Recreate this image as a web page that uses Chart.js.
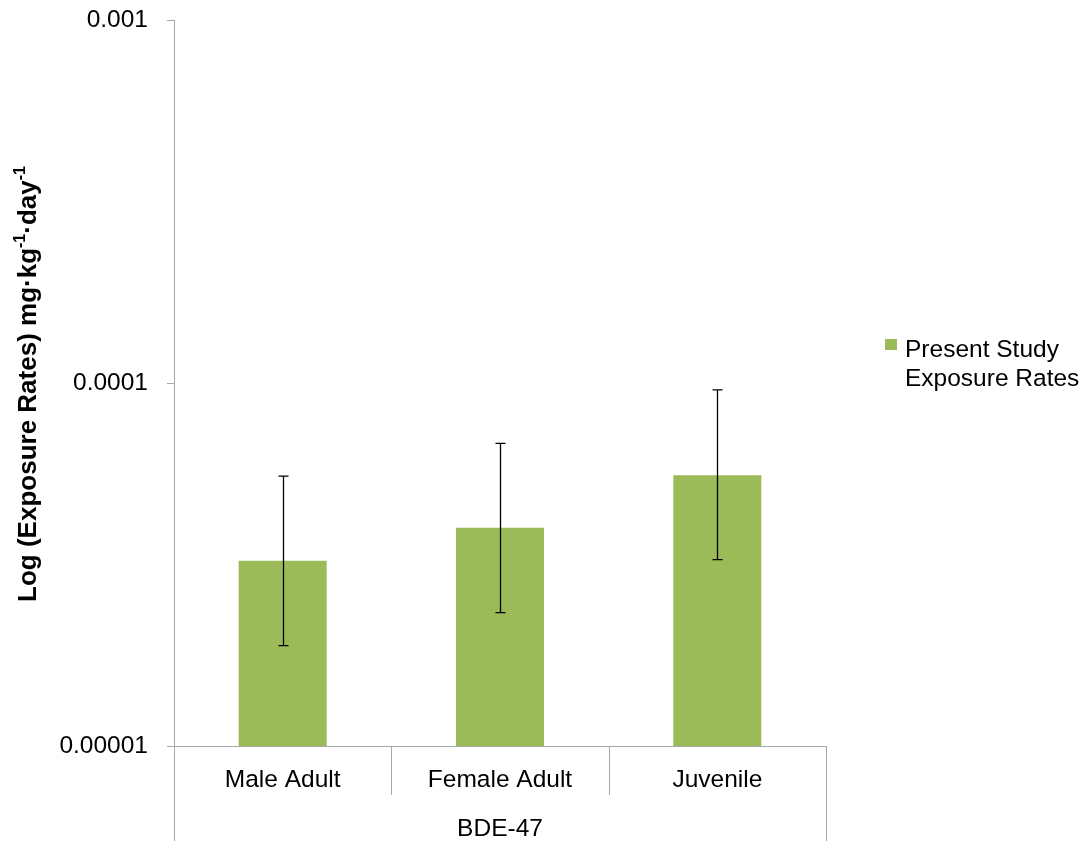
<!DOCTYPE html>
<html>
<head>
<meta charset="utf-8">
<script src="https://cdn.jsdelivr.net/npm/chart.js@4/dist/chart.umd.min.js"></script>
<style>
  html, body { margin: 0; padding: 0; background: #ffffff; }
  #wrap { width: 1089px; height: 841px; position: relative; }
</style>
</head>
<body>
<div id="wrap"><canvas id="chart" width="1089" height="841"></canvas></div>
<script>
// BDE-47 exposure rates by group (mg·kg-1·day-1), log axis
const categories = ['Male Adult', 'Female Adult', 'Juvenile'];
const groupLabel = 'BDE-47';
const seriesName = ['Present Study', 'Exposure Rates'];
const exposure = [3.24e-5, 3.99e-5, 5.57e-5];
const errUpper = [5.54e-5, 6.82e-5, 9.57e-5];
const errLower = [1.89e-5, 2.33e-5, 3.26e-5];
const yTicks = [0.00001, 0.0001, 0.001];
const yTickLabels = ['0.00001', '0.0001', '0.001'];

const FONT = '"Liberation Sans", Arial, sans-serif';
const FONT_SIZE = 24.5;
const AXIS_GREY = '#a6a6a6';
const BAR_GREEN = '#9bbb59';

// Vertical error bars with caps
const errorBars = {
  id: 'errorBars',
  afterDatasetsDraw(chart) {
    const { ctx } = chart;
    const y = chart.scales.y;
    const meta = chart.getDatasetMeta(0);
    ctx.save();
    ctx.strokeStyle = '#000000';
    ctx.lineWidth = 1.3;
    meta.data.forEach((bar, i) => {
      const x = Math.round(bar.x) + 0.5;
      const yHi = y.getPixelForValue(errUpper[i]);
      const yLo = y.getPixelForValue(errLower[i]);
      const cap = 5;
      ctx.beginPath();
      ctx.moveTo(x, yHi); ctx.lineTo(x, yLo);
      ctx.moveTo(x - cap, yHi); ctx.lineTo(x + cap, yHi);
      ctx.moveTo(x - cap, yLo); ctx.lineTo(x + cap, yLo);
      ctx.stroke();
    });
    ctx.restore();
  }
};

// Category boundary lines below the axis, outer ones running to the bottom edge
const categoryDividers = {
  id: 'categoryDividers',
  afterDraw(chart) {
    const { ctx } = chart;
    const xs = chart.scales.x;
    const n = categories.length;
    const step = (xs.right - xs.left) / n;
    const top = chart.chartArea.bottom;
    ctx.save();
    ctx.strokeStyle = AXIS_GREY;
    ctx.lineWidth = 1;
    for (let i = 0; i <= n; i++) {
      const x = Math.round(xs.left + step * i) + 0.5;
      const bottom = (i === 0 || i === n) ? chart.height : top + 49;
      ctx.beginPath();
      ctx.moveTo(x, top);
      ctx.lineTo(x, bottom);
      ctx.stroke();
    }
    ctx.restore();
  }
};

// Rotated y-axis title with superscript exponents
const yAxisTitle = {
  id: 'yAxisTitle',
  afterDraw(chart) {
    const { ctx } = chart;
    const parts = [
      { t: 'Log (Exposure Rates) mg\u00b7kg', sup: false },
      { t: '-1', sup: true },
      { t: '\u00b7day', sup: false },
      { t: '-1', sup: true }
    ];
    const base = 'bold 26px ' + FONT;
    const small = 'bold 16px ' + FONT;
    ctx.save();
    let total = 0;
    parts.forEach(p => { ctx.font = p.sup ? small : base; p.w = ctx.measureText(p.t).width; total += p.w; });
    ctx.translate(29, 384);
    ctx.rotate(-Math.PI / 2);
    ctx.fillStyle = '#000000';
    ctx.textBaseline = 'middle';
    ctx.textAlign = 'left';
    let x = -total / 2;
    parts.forEach(p => {
      ctx.font = p.sup ? small : base;
      ctx.fillText(p.t, x, p.sup ? -8 : 0);
      x += p.w;
    });
    ctx.restore();
  }
};

// Legend on the right with a wrapped series name
const sideLegend = {
  id: 'sideLegend',
  afterDraw(chart) {
    const { ctx } = chart;
    const ds = chart.data.datasets[0];
    ctx.save();
    ctx.fillStyle = ds.backgroundColor;
    ctx.fillRect(885, 339, 12, 11);
    ctx.fillStyle = '#000000';
    ctx.font = FONT_SIZE + 'px ' + FONT;
    ctx.textBaseline = 'alphabetic';
    ctx.textAlign = 'left';
    seriesName.forEach((line, i) => ctx.fillText(line, 905, 357 + i * 28.5));
    ctx.restore();
  }
};

new Chart(document.getElementById('chart'), {
  type: 'bar',
  data: {
    labels: categories,
    datasets: [{
      label: seriesName.join(' '),
      data: exposure,
      backgroundColor: BAR_GREEN,
      borderWidth: 0,
      categoryPercentage: 1.0,
      barPercentage: 0.405
    }]
  },
  options: {
    responsive: false,
    animation: false,
    devicePixelRatio: 1,
    layout: { padding: { top: 20, right: 263, left: 0, bottom: 0 } },
    plugins: {
      legend: { display: false },
      tooltip: { enabled: false },
      title: { display: false }
    },
    scales: {
      x: {
        type: 'category',
        grid: { display: false },
        border: { display: true, color: AXIS_GREY, width: 1 },
        ticks: { font: { family: FONT, size: FONT_SIZE }, color: '#000000', padding: 12, maxRotation: 0 },
        title: { display: true, text: groupLabel, font: { family: FONT, size: FONT_SIZE }, color: '#000000', padding: { top: 0, bottom: -3 } },
        afterFit(scale) {
          scale.height = 95;
          scale.paddingLeft = 0;
          scale.paddingRight = 0;
        }
      },
      y: {
        type: 'logarithmic',
        min: yTicks[0],
        max: yTicks[yTicks.length - 1],
        position: 'left',
        grid: { display: true, drawOnChartArea: false, drawTicks: true, tickLength: 7, color: AXIS_GREY },
        border: { display: true, color: AXIS_GREY, width: 1 },
        ticks: {
          font: { family: FONT, size: FONT_SIZE },
          color: '#000000',
          padding: 19,
          callback(value) {
            const i = yTicks.indexOf(value);
            return i >= 0 ? yTickLabels[i] : '';
          }
        },
        afterBuildTicks(scale) { scale.ticks = yTicks.map(v => ({ value: v })); },
        afterFit(scale) {
          scale.width = 174;
          scale.paddingTop = 0;
          scale.paddingBottom = 0;
        }
      }
    }
  },
  plugins: [errorBars, categoryDividers, yAxisTitle, sideLegend]
});
</script>
</body>
</html>
